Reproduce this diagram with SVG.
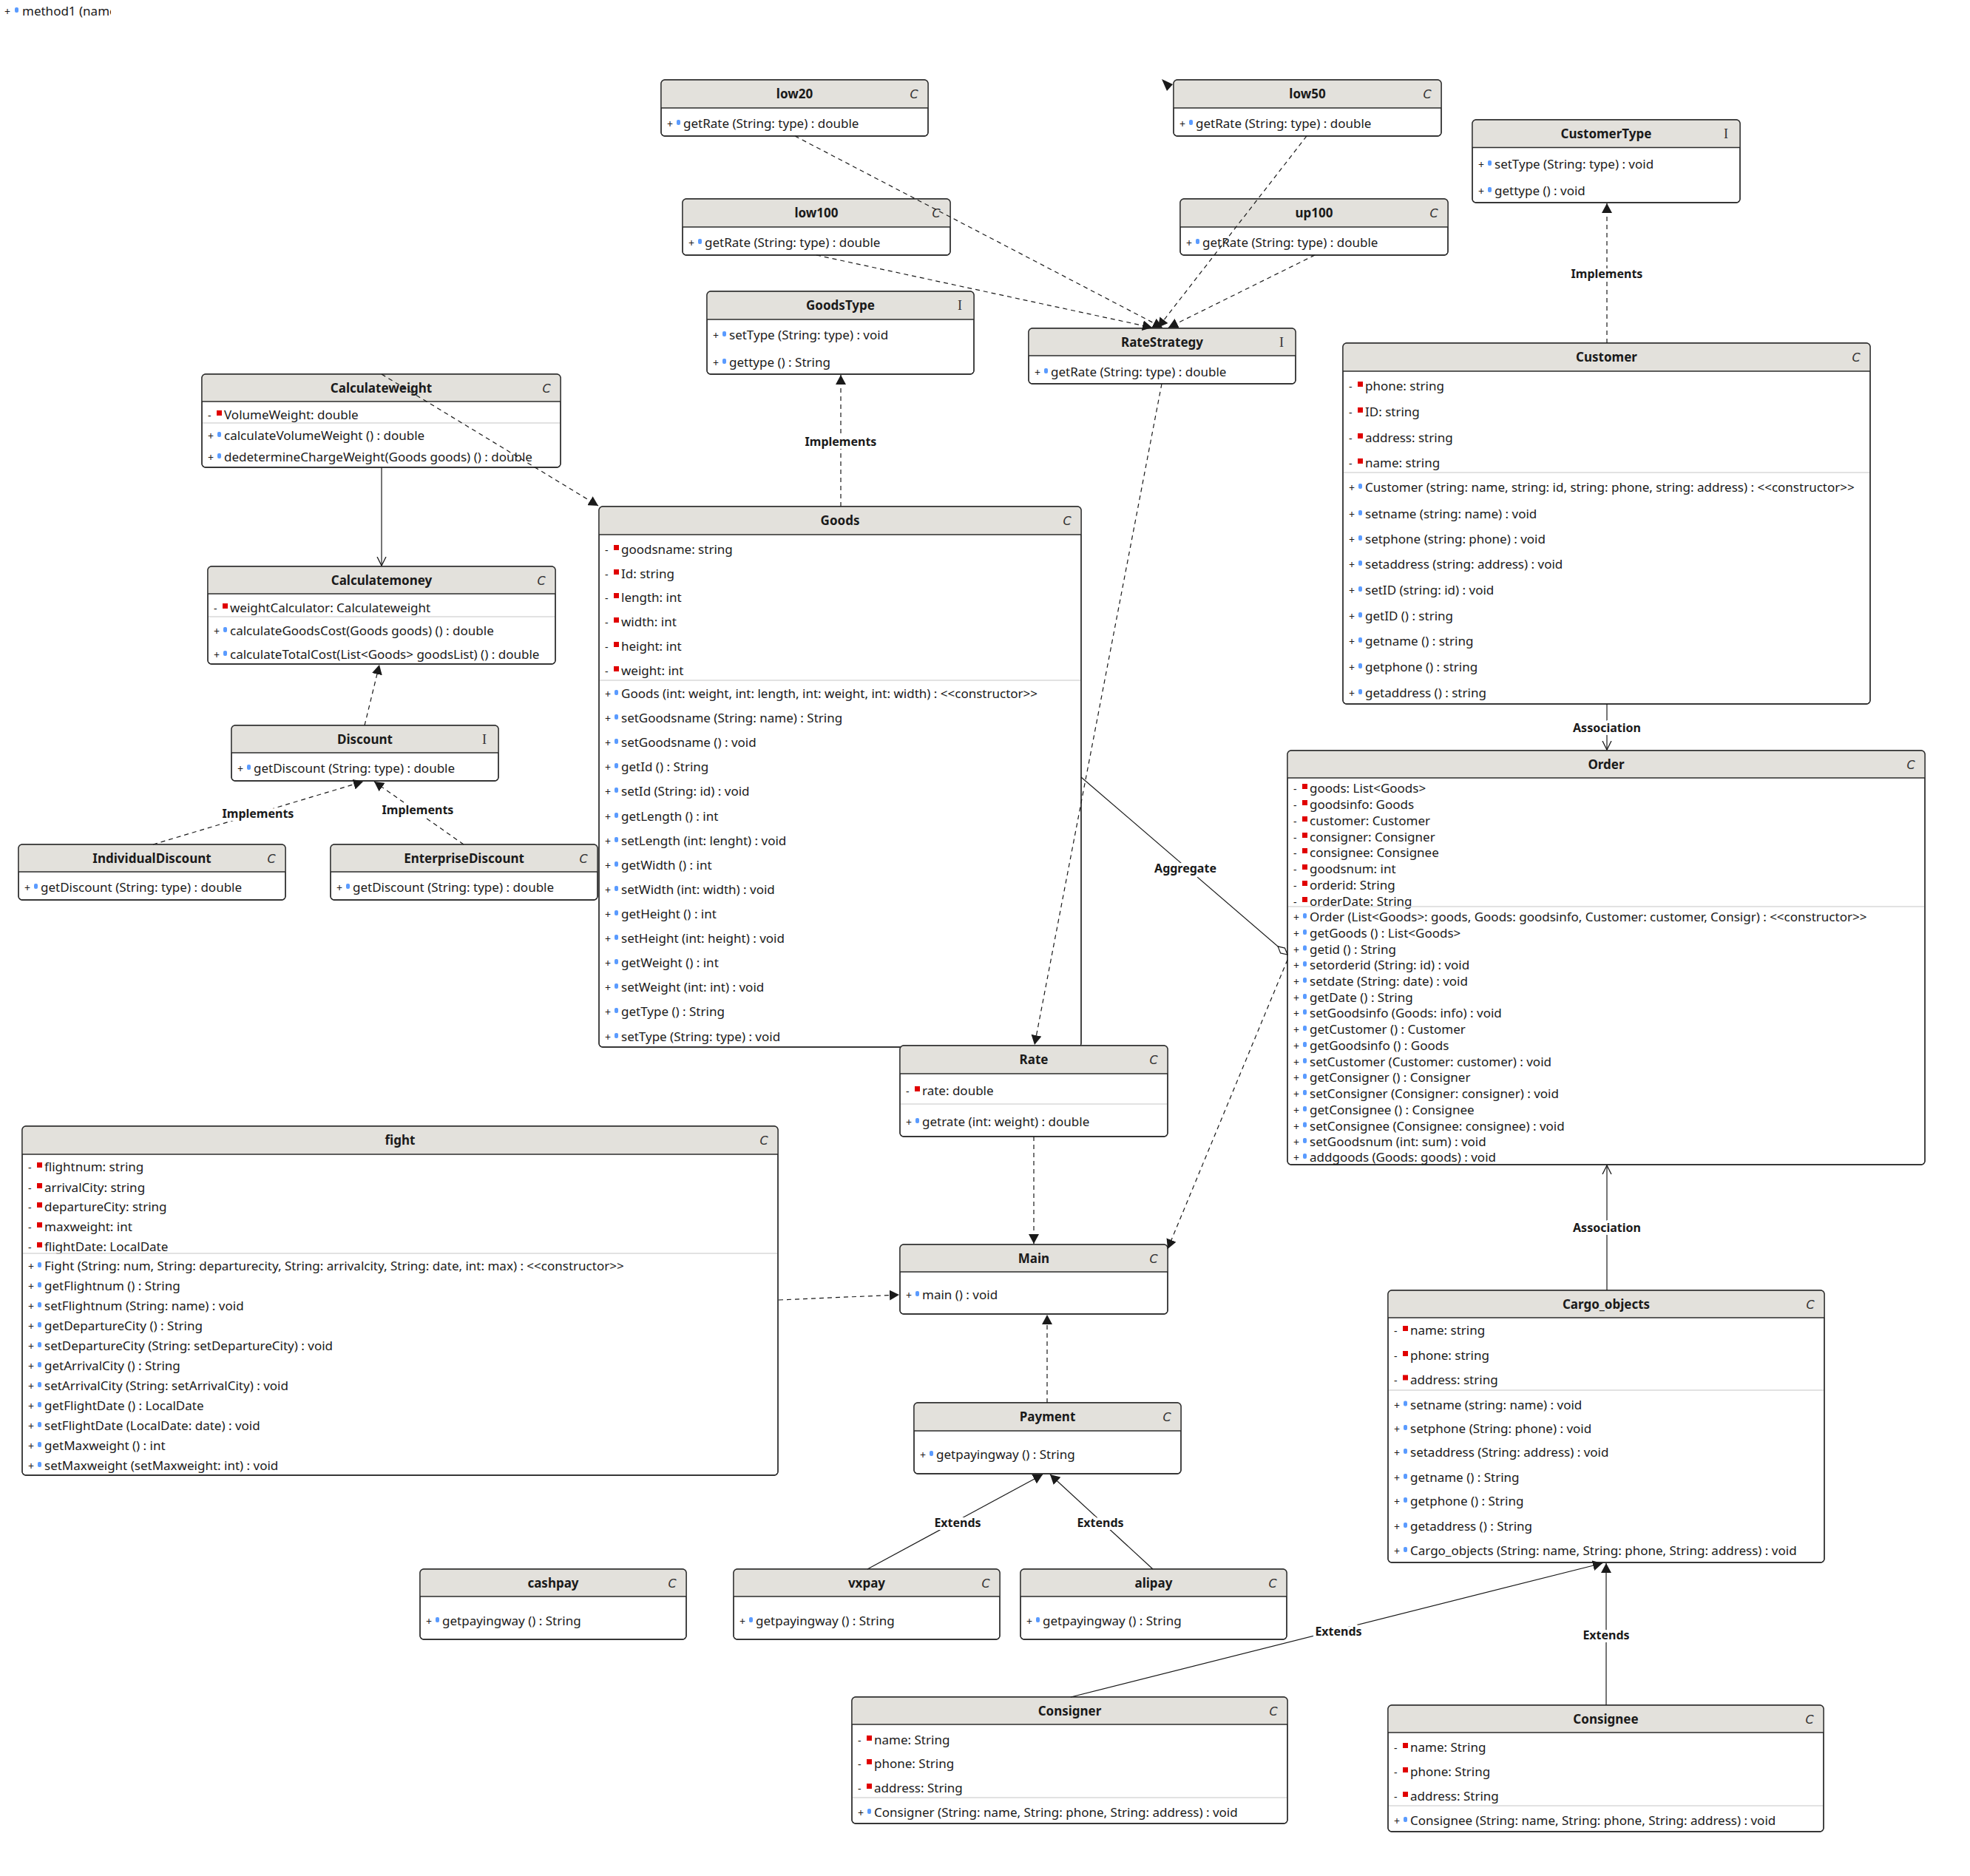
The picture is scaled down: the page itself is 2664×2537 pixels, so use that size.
<svg xmlns="http://www.w3.org/2000/svg" width="2664" height="2537" viewBox="0 0 2664 2537">
<style>
.bx{fill:#fff;stroke:#2b2b2b;stroke-width:1.3}
.hd{fill:#E3E1DC}
.hl{stroke:#2b2b2b;stroke-width:1.3}
.sp{stroke:#d9d9d9;stroke-width:1.5}
text{font-family:"Noto Sans","DejaVu Sans",sans-serif;font-size:17px;fill:#1a1a1a}
text>tspan:first-child{font-size:14px}
.tt{font-weight:bold;text-anchor:middle}
.sc{font-family:"DejaVu Sans",sans-serif;font-style:italic;font-size:16px;text-anchor:middle;fill:#333}
.si{font-family:"Liberation Serif",serif;font-size:18px;text-anchor:middle;fill:#333}
.r{fill:#e00000}
.b{fill:#5a9bff}
.lb{font-weight:bold;font-size:16px;text-anchor:middle;paint-order:stroke;stroke:#fff;stroke-width:8px;stroke-linejoin:round}
.c{stroke:#1a1a1a;stroke-width:1.2;fill:none}
.d{stroke-dasharray:6 5}
</style>
<defs>
<marker id="fa" markerWidth="14" markerHeight="14" refX="13" refY="7" orient="auto" markerUnits="userSpaceOnUse"><path d="M0,0 L13,7 L0,14 Z" fill="#1a1a1a"/></marker>
<marker id="oa" markerWidth="14" markerHeight="14" refX="12" refY="7" orient="auto" markerUnits="userSpaceOnUse"><path d="M0,1 L12,7 L0,13" fill="none" stroke="#1a1a1a" stroke-width="1.3"/></marker>
<marker id="dm" markerWidth="20" markerHeight="12" refX="18" refY="6" orient="auto" markerUnits="userSpaceOnUse"><path d="M1,6 L9.5,1.5 L18,6 L9.5,10.5 Z" fill="#fff" stroke="#1a1a1a" stroke-width="1.2"/></marker>
<clipPath id="tl"><rect x="0" y="0" width="150" height="40"/></clipPath>
</defs>
<rect width="2664" height="2537" fill="#fff"/>

<g id="stray" clip-path="url(#tl)">
<text y="21"><tspan x="6">+</tspan><tspan x="30">method1 (name</tspan></text>
<rect class="b" x="20" y="10" width="5" height="7" rx="2"/>
</g>

<g id="nodes">
<g id="low20">
<rect class="bx" x="894" y="108" width="361" height="76" rx="5"/>
<path class="hd" d="M894,146 V113 Q894,108 899,108 H1250 Q1255,108 1255,113 V146 Z"/>
<rect x="894" y="108" width="361" height="76" rx="5" fill="none" stroke="#2b2b2b" stroke-width="1.3"/>
<line class="hl" x1="894" y1="146" x2="1255" y2="146"/>
<text class="tt" x="1074.5" y="133">low20</text><text class="sc" x="1236" y="133">C</text>
<text y="173"><tspan x="902">+</tspan><tspan x="924">getRate (String: type) : double</tspan></text><rect class="b" x="915" y="162" width="5" height="7" rx="2"/>
</g>
<g id="low50">
<rect class="bx" x="1587" y="108" width="362" height="76" rx="5"/>
<path class="hd" d="M1587,146 V113 Q1587,108 1592,108 H1944 Q1949,108 1949,113 V146 Z"/>
<rect x="1587" y="108" width="362" height="76" rx="5" fill="none" stroke="#2b2b2b" stroke-width="1.3"/>
<line class="hl" x1="1587" y1="146" x2="1949" y2="146"/>
<text class="tt" x="1768" y="133">low50</text><text class="sc" x="1930" y="133">C</text>
<text y="173"><tspan x="1595">+</tspan><tspan x="1617">getRate (String: type) : double</tspan></text><rect class="b" x="1608" y="162" width="5" height="7" rx="2"/>
</g>
<g id="low100">
<rect class="bx" x="923" y="269" width="362" height="76" rx="5"/>
<path class="hd" d="M923,307 V274 Q923,269 928,269 H1280 Q1285,269 1285,274 V307 Z"/>
<rect x="923" y="269" width="362" height="76" rx="5" fill="none" stroke="#2b2b2b" stroke-width="1.3"/>
<line class="hl" x1="923" y1="307" x2="1285" y2="307"/>
<text class="tt" x="1104" y="294">low100</text><text class="sc" x="1266" y="294">C</text>
<text y="334"><tspan x="931">+</tspan><tspan x="953">getRate (String: type) : double</tspan></text><rect class="b" x="944" y="323" width="5" height="7" rx="2"/>
</g>
<g id="up100">
<rect class="bx" x="1596" y="269" width="362" height="76" rx="5"/>
<path class="hd" d="M1596,307 V274 Q1596,269 1601,269 H1953 Q1958,269 1958,274 V307 Z"/>
<rect x="1596" y="269" width="362" height="76" rx="5" fill="none" stroke="#2b2b2b" stroke-width="1.3"/>
<line class="hl" x1="1596" y1="307" x2="1958" y2="307"/>
<text class="tt" x="1777" y="294">up100</text><text class="sc" x="1939" y="294">C</text>
<text y="334"><tspan x="1604">+</tspan><tspan x="1626">getRate (String: type) : double</tspan></text><rect class="b" x="1617" y="323" width="5" height="7" rx="2"/>
</g>
<g id="CustomerType">
<rect class="bx" x="1991" y="162" width="362" height="112" rx="5"/>
<path class="hd" d="M1991,199.5 V167 Q1991,162 1996,162 H2348 Q2353,162 2353,167 V199.5 Z"/>
<rect x="1991" y="162" width="362" height="112" rx="5" fill="none" stroke="#2b2b2b" stroke-width="1.3"/>
<line class="hl" x1="1991" y1="199.5" x2="2353" y2="199.5"/>
<text class="tt" x="2172" y="187">CustomerType</text><text class="si" x="2334" y="187">I</text>
<text y="228"><tspan x="1999">+</tspan><tspan x="2021">setType (String: type) : void</tspan></text><rect class="b" x="2012" y="217" width="5" height="7" rx="2"/>
<text y="264"><tspan x="1999">+</tspan><tspan x="2021">gettype () : void</tspan></text><rect class="b" x="2012" y="253" width="5" height="7" rx="2"/>
</g>
<g id="GoodsType">
<rect class="bx" x="956" y="394" width="361" height="112" rx="5"/>
<path class="hd" d="M956,432 V399 Q956,394 961,394 H1312 Q1317,394 1317,399 V432 Z"/>
<rect x="956" y="394" width="361" height="112" rx="5" fill="none" stroke="#2b2b2b" stroke-width="1.3"/>
<line class="hl" x1="956" y1="432" x2="1317" y2="432"/>
<text class="tt" x="1136.5" y="419">GoodsType</text><text class="si" x="1298" y="419">I</text>
<text y="459"><tspan x="964">+</tspan><tspan x="986">setType (String: type) : void</tspan></text><rect class="b" x="977" y="448" width="5" height="7" rx="2"/>
<text y="496"><tspan x="964">+</tspan><tspan x="986">gettype () : String</tspan></text><rect class="b" x="977" y="485" width="5" height="7" rx="2"/>
</g>
<g id="RateStrategy">
<rect class="bx" x="1391" y="444" width="361" height="75" rx="5"/>
<path class="hd" d="M1391,481 V449 Q1391,444 1396,444 H1747 Q1752,444 1752,449 V481 Z"/>
<rect x="1391" y="444" width="361" height="75" rx="5" fill="none" stroke="#2b2b2b" stroke-width="1.3"/>
<line class="hl" x1="1391" y1="481" x2="1752" y2="481"/>
<text class="tt" x="1571.5" y="468.5">RateStrategy</text><text class="si" x="1733" y="468.5">I</text>
<text y="509"><tspan x="1399">+</tspan><tspan x="1421">getRate (String: type) : double</tspan></text><rect class="b" x="1412" y="498" width="5" height="7" rx="2"/>
</g>
<g id="Calculateweight">
<rect class="bx" x="273" y="506" width="485" height="126" rx="5"/>
<path class="hd" d="M273,543 V511 Q273,506 278,506 H753 Q758,506 758,511 V543 Z"/>
<rect x="273" y="506" width="485" height="126" rx="5" fill="none" stroke="#2b2b2b" stroke-width="1.3"/>
<line class="hl" x1="273" y1="543" x2="758" y2="543"/>
<text class="tt" x="515.5" y="530.5">Calculateweight</text><text class="sc" x="739" y="530.5">C</text>
<text y="567"><tspan x="281">-</tspan><tspan x="303">VolumeWeight: double</tspan></text><rect class="r" x="293" y="555" width="7" height="7"/>
<line class="sp" x1="274" y1="572" x2="757" y2="572"/>
<text y="595"><tspan x="281">+</tspan><tspan x="303">calculateVolumeWeight () : double</tspan></text><rect class="b" x="294" y="584" width="5" height="7" rx="2"/>
<text y="624"><tspan x="281">+</tspan><tspan x="303">dedetermineChargeWeight(Goods goods) () : double</tspan></text><rect class="b" x="294" y="613" width="5" height="7" rx="2"/>
</g>
<g id="Calculatemoney">
<rect class="bx" x="281" y="766" width="470" height="132" rx="5"/>
<path class="hd" d="M281,803 V771 Q281,766 286,766 H746 Q751,766 751,771 V803 Z"/>
<rect x="281" y="766" width="470" height="132" rx="5" fill="none" stroke="#2b2b2b" stroke-width="1.3"/>
<line class="hl" x1="281" y1="803" x2="751" y2="803"/>
<text class="tt" x="516" y="790.5">Calculatemoney</text><text class="sc" x="732" y="790.5">C</text>
<text y="828"><tspan x="289">-</tspan><tspan x="311">weightCalculator: Calculateweight</tspan></text><rect class="r" x="301" y="816" width="7" height="7"/>
<line class="sp" x1="282" y1="834" x2="750" y2="834"/>
<text y="859"><tspan x="289">+</tspan><tspan x="311">calculateGoodsCost(Goods goods) () : double</tspan></text><rect class="b" x="302" y="848" width="5" height="7" rx="2"/>
<text y="891"><tspan x="289">+</tspan><tspan x="311">calculateTotalCost(List&lt;Goods&gt; goodsList) () : double</tspan></text><rect class="b" x="302" y="880" width="5" height="7" rx="2"/>
</g>
<g id="Discount">
<rect class="bx" x="313" y="981" width="361" height="75" rx="5"/>
<path class="hd" d="M313,1018 V986 Q313,981 318,981 H669 Q674,981 674,986 V1018 Z"/>
<rect x="313" y="981" width="361" height="75" rx="5" fill="none" stroke="#2b2b2b" stroke-width="1.3"/>
<line class="hl" x1="313" y1="1018" x2="674" y2="1018"/>
<text class="tt" x="493.5" y="1005.5">Discount</text><text class="si" x="655" y="1005.5">I</text>
<text y="1045"><tspan x="321">+</tspan><tspan x="343">getDiscount (String: type) : double</tspan></text><rect class="b" x="334" y="1034" width="5" height="7" rx="2"/>
</g>
<g id="IndividualDiscount">
<rect class="bx" x="25" y="1142" width="361" height="75" rx="5"/>
<path class="hd" d="M25,1179 V1147 Q25,1142 30,1142 H381 Q386,1142 386,1147 V1179 Z"/>
<rect x="25" y="1142" width="361" height="75" rx="5" fill="none" stroke="#2b2b2b" stroke-width="1.3"/>
<line class="hl" x1="25" y1="1179" x2="386" y2="1179"/>
<text class="tt" x="205.5" y="1166.5">IndividualDiscount</text><text class="sc" x="367" y="1166.5">C</text>
<text y="1206"><tspan x="33">+</tspan><tspan x="55">getDiscount (String: type) : double</tspan></text><rect class="b" x="46" y="1195" width="5" height="7" rx="2"/>
</g>
<g id="EnterpriseDiscount">
<rect class="bx" x="447" y="1142" width="361" height="75" rx="5"/>
<path class="hd" d="M447,1179 V1147 Q447,1142 452,1142 H803 Q808,1142 808,1147 V1179 Z"/>
<rect x="447" y="1142" width="361" height="75" rx="5" fill="none" stroke="#2b2b2b" stroke-width="1.3"/>
<line class="hl" x1="447" y1="1179" x2="808" y2="1179"/>
<text class="tt" x="627.5" y="1166.5">EnterpriseDiscount</text><text class="sc" x="789" y="1166.5">C</text>
<text y="1206"><tspan x="455">+</tspan><tspan x="477">getDiscount (String: type) : double</tspan></text><rect class="b" x="468" y="1195" width="5" height="7" rx="2"/>
</g>
<g id="Goods">
<rect class="bx" x="810" y="685" width="652" height="731" rx="5"/>
<path class="hd" d="M810,723 V690 Q810,685 815,685 H1457 Q1462,685 1462,690 V723 Z"/>
<rect x="810" y="685" width="652" height="731" rx="5" fill="none" stroke="#2b2b2b" stroke-width="1.3"/>
<line class="hl" x1="810" y1="723" x2="1462" y2="723"/>
<text class="tt" x="1136" y="710">Goods</text><text class="sc" x="1443" y="710">C</text>
<text y="749"><tspan x="818">-</tspan><tspan x="840">goodsname: string</tspan></text><rect class="r" x="830" y="737" width="7" height="7"/>
<text y="782"><tspan x="818">-</tspan><tspan x="840">Id: string</tspan></text><rect class="r" x="830" y="770" width="7" height="7"/>
<text y="814"><tspan x="818">-</tspan><tspan x="840">length: int</tspan></text><rect class="r" x="830" y="802" width="7" height="7"/>
<text y="847"><tspan x="818">-</tspan><tspan x="840">width: int</tspan></text><rect class="r" x="830" y="835" width="7" height="7"/>
<text y="880"><tspan x="818">-</tspan><tspan x="840">height: int</tspan></text><rect class="r" x="830" y="868" width="7" height="7"/>
<text y="913"><tspan x="818">-</tspan><tspan x="840">weight: int</tspan></text><rect class="r" x="830" y="901" width="7" height="7"/>
<line class="sp" x1="811" y1="920" x2="1461" y2="920"/>
<text y="944"><tspan x="818">+</tspan><tspan x="840">Goods (int: weight, int: length, int: weight, int: width) : &lt;&lt;constructor&gt;&gt;</tspan></text><rect class="b" x="831" y="933" width="5" height="7" rx="2"/>
<text y="977"><tspan x="818">+</tspan><tspan x="840">setGoodsname (String: name) : String</tspan></text><rect class="b" x="831" y="966" width="5" height="7" rx="2"/>
<text y="1010"><tspan x="818">+</tspan><tspan x="840">setGoodsname () : void</tspan></text><rect class="b" x="831" y="999" width="5" height="7" rx="2"/>
<text y="1043"><tspan x="818">+</tspan><tspan x="840">getId () : String</tspan></text><rect class="b" x="831" y="1032" width="5" height="7" rx="2"/>
<text y="1076"><tspan x="818">+</tspan><tspan x="840">setId (String: id) : void</tspan></text><rect class="b" x="831" y="1065" width="5" height="7" rx="2"/>
<text y="1110"><tspan x="818">+</tspan><tspan x="840">getLength () : int</tspan></text><rect class="b" x="831" y="1099" width="5" height="7" rx="2"/>
<text y="1143"><tspan x="818">+</tspan><tspan x="840">setLength (int: lenght) : void</tspan></text><rect class="b" x="831" y="1132" width="5" height="7" rx="2"/>
<text y="1176"><tspan x="818">+</tspan><tspan x="840">getWidth () : int</tspan></text><rect class="b" x="831" y="1165" width="5" height="7" rx="2"/>
<text y="1209"><tspan x="818">+</tspan><tspan x="840">setWidth (int: width) : void</tspan></text><rect class="b" x="831" y="1198" width="5" height="7" rx="2"/>
<text y="1242"><tspan x="818">+</tspan><tspan x="840">getHeight () : int</tspan></text><rect class="b" x="831" y="1231" width="5" height="7" rx="2"/>
<text y="1275"><tspan x="818">+</tspan><tspan x="840">setHeight (int: height) : void</tspan></text><rect class="b" x="831" y="1264" width="5" height="7" rx="2"/>
<text y="1308"><tspan x="818">+</tspan><tspan x="840">getWeight () : int</tspan></text><rect class="b" x="831" y="1297" width="5" height="7" rx="2"/>
<text y="1341"><tspan x="818">+</tspan><tspan x="840">setWeight (int: int) : void</tspan></text><rect class="b" x="831" y="1330" width="5" height="7" rx="2"/>
<text y="1374"><tspan x="818">+</tspan><tspan x="840">getType () : String</tspan></text><rect class="b" x="831" y="1363" width="5" height="7" rx="2"/>
<text y="1408"><tspan x="818">+</tspan><tspan x="840">setType (String: type) : void</tspan></text><rect class="b" x="831" y="1397" width="5" height="7" rx="2"/>
</g>
<g id="Customer">
<rect class="bx" x="1816" y="464" width="713" height="488" rx="5"/>
<path class="hd" d="M1816,502 V469 Q1816,464 1821,464 H2524 Q2529,464 2529,469 V502 Z"/>
<rect x="1816" y="464" width="713" height="488" rx="5" fill="none" stroke="#2b2b2b" stroke-width="1.3"/>
<line class="hl" x1="1816" y1="502" x2="2529" y2="502"/>
<text class="tt" x="2172.5" y="489">Customer</text><text class="sc" x="2510" y="489">C</text>
<text y="528"><tspan x="1824">-</tspan><tspan x="1846">phone: string</tspan></text><rect class="r" x="1836" y="516" width="7" height="7"/>
<text y="563"><tspan x="1824">-</tspan><tspan x="1846">ID: string</tspan></text><rect class="r" x="1836" y="551" width="7" height="7"/>
<text y="598"><tspan x="1824">-</tspan><tspan x="1846">address: string</tspan></text><rect class="r" x="1836" y="586" width="7" height="7"/>
<text y="632"><tspan x="1824">-</tspan><tspan x="1846">name: string</tspan></text><rect class="r" x="1836" y="620" width="7" height="7"/>
<line class="sp" x1="1817" y1="639" x2="2528" y2="639"/>
<text y="665"><tspan x="1824">+</tspan><tspan x="1846">Customer (string: name, string: id, string: phone, string: address) : &lt;&lt;constructor&gt;&gt;</tspan></text><rect class="b" x="1837" y="654" width="5" height="7" rx="2"/>
<text y="701"><tspan x="1824">+</tspan><tspan x="1846">setname (string: name) : void</tspan></text><rect class="b" x="1837" y="690" width="5" height="7" rx="2"/>
<text y="735"><tspan x="1824">+</tspan><tspan x="1846">setphone (string: phone) : void</tspan></text><rect class="b" x="1837" y="724" width="5" height="7" rx="2"/>
<text y="769"><tspan x="1824">+</tspan><tspan x="1846">setaddress (string: address) : void</tspan></text><rect class="b" x="1837" y="758" width="5" height="7" rx="2"/>
<text y="804"><tspan x="1824">+</tspan><tspan x="1846">setID (string: id) : void</tspan></text><rect class="b" x="1837" y="793" width="5" height="7" rx="2"/>
<text y="839"><tspan x="1824">+</tspan><tspan x="1846">getID () : string</tspan></text><rect class="b" x="1837" y="828" width="5" height="7" rx="2"/>
<text y="873"><tspan x="1824">+</tspan><tspan x="1846">getname () : string</tspan></text><rect class="b" x="1837" y="862" width="5" height="7" rx="2"/>
<text y="908"><tspan x="1824">+</tspan><tspan x="1846">getphone () : string</tspan></text><rect class="b" x="1837" y="897" width="5" height="7" rx="2"/>
<text y="943"><tspan x="1824">+</tspan><tspan x="1846">getaddress () : string</tspan></text><rect class="b" x="1837" y="932" width="5" height="7" rx="2"/>
</g>
<g id="Order">
<rect class="bx" x="1741" y="1015" width="862" height="560" rx="5"/>
<path class="hd" d="M1741,1052 V1020 Q1741,1015 1746,1015 H2598 Q2603,1015 2603,1020 V1052 Z"/>
<rect x="1741" y="1015" width="862" height="560" rx="5" fill="none" stroke="#2b2b2b" stroke-width="1.3"/>
<line class="hl" x1="1741" y1="1052" x2="2603" y2="1052"/>
<text class="tt" x="2172" y="1039.5">Order</text><text class="sc" x="2584" y="1039.5">C</text>
<text y="1072"><tspan x="1749">-</tspan><tspan x="1771">goods: List&lt;Goods&gt;</tspan></text><rect class="r" x="1761" y="1060" width="7" height="7"/>
<text y="1094"><tspan x="1749">-</tspan><tspan x="1771">goodsinfo: Goods</tspan></text><rect class="r" x="1761" y="1082" width="7" height="7"/>
<text y="1116"><tspan x="1749">-</tspan><tspan x="1771">customer: Customer</tspan></text><rect class="r" x="1761" y="1104" width="7" height="7"/>
<text y="1138"><tspan x="1749">-</tspan><tspan x="1771">consigner: Consigner</tspan></text><rect class="r" x="1761" y="1126" width="7" height="7"/>
<text y="1159"><tspan x="1749">-</tspan><tspan x="1771">consignee: Consignee</tspan></text><rect class="r" x="1761" y="1147" width="7" height="7"/>
<text y="1181"><tspan x="1749">-</tspan><tspan x="1771">goodsnum: int</tspan></text><rect class="r" x="1761" y="1169" width="7" height="7"/>
<text y="1203"><tspan x="1749">-</tspan><tspan x="1771">orderid: String</tspan></text><rect class="r" x="1761" y="1191" width="7" height="7"/>
<text y="1225"><tspan x="1749">-</tspan><tspan x="1771">orderDate: String</tspan></text><rect class="r" x="1761" y="1213" width="7" height="7"/>
<line class="sp" x1="1742" y1="1226" x2="2602" y2="1226"/>
<text y="1246"><tspan x="1749">+</tspan><tspan x="1771">Order (List&lt;Goods&gt;: goods, Goods: goodsinfo, Customer: customer, Consigr) : &lt;&lt;constructor&gt;&gt;</tspan></text><rect class="b" x="1762" y="1235" width="5" height="7" rx="2"/>
<text y="1268"><tspan x="1749">+</tspan><tspan x="1771">getGoods () : List&lt;Goods&gt;</tspan></text><rect class="b" x="1762" y="1257" width="5" height="7" rx="2"/>
<text y="1289.5"><tspan x="1749">+</tspan><tspan x="1771">getid () : String</tspan></text><rect class="b" x="1762" y="1278.5" width="5" height="7" rx="2"/>
<text y="1311"><tspan x="1749">+</tspan><tspan x="1771">setorderid (String: id) : void</tspan></text><rect class="b" x="1762" y="1300" width="5" height="7" rx="2"/>
<text y="1333"><tspan x="1749">+</tspan><tspan x="1771">setdate (String: date) : void</tspan></text><rect class="b" x="1762" y="1322" width="5" height="7" rx="2"/>
<text y="1355"><tspan x="1749">+</tspan><tspan x="1771">getDate () : String</tspan></text><rect class="b" x="1762" y="1344" width="5" height="7" rx="2"/>
<text y="1376"><tspan x="1749">+</tspan><tspan x="1771">setGoodsinfo (Goods: info) : void</tspan></text><rect class="b" x="1762" y="1365" width="5" height="7" rx="2"/>
<text y="1398"><tspan x="1749">+</tspan><tspan x="1771">getCustomer () : Customer</tspan></text><rect class="b" x="1762" y="1387" width="5" height="7" rx="2"/>
<text y="1420"><tspan x="1749">+</tspan><tspan x="1771">getGoodsinfo () : Goods</tspan></text><rect class="b" x="1762" y="1409" width="5" height="7" rx="2"/>
<text y="1442"><tspan x="1749">+</tspan><tspan x="1771">setCustomer (Customer: customer) : void</tspan></text><rect class="b" x="1762" y="1431" width="5" height="7" rx="2"/>
<text y="1463"><tspan x="1749">+</tspan><tspan x="1771">getConsigner () : Consigner</tspan></text><rect class="b" x="1762" y="1452" width="5" height="7" rx="2"/>
<text y="1485"><tspan x="1749">+</tspan><tspan x="1771">setConsigner (Consigner: consigner) : void</tspan></text><rect class="b" x="1762" y="1474" width="5" height="7" rx="2"/>
<text y="1507"><tspan x="1749">+</tspan><tspan x="1771">getConsignee () : Consignee</tspan></text><rect class="b" x="1762" y="1496" width="5" height="7" rx="2"/>
<text y="1528.5"><tspan x="1749">+</tspan><tspan x="1771">setConsignee (Consignee: consignee) : void</tspan></text><rect class="b" x="1762" y="1517.5" width="5" height="7" rx="2"/>
<text y="1550"><tspan x="1749">+</tspan><tspan x="1771">setGoodsnum (int: sum) : void</tspan></text><rect class="b" x="1762" y="1539" width="5" height="7" rx="2"/>
<text y="1571"><tspan x="1749">+</tspan><tspan x="1771">addgoods (Goods: goods) : void</tspan></text><rect class="b" x="1762" y="1560" width="5" height="7" rx="2"/>
</g>
<g id="Rate">
<rect class="bx" x="1217" y="1414" width="362" height="123" rx="5"/>
<path class="hd" d="M1217,1452 V1419 Q1217,1414 1222,1414 H1574 Q1579,1414 1579,1419 V1452 Z"/>
<rect x="1217" y="1414" width="362" height="123" rx="5" fill="none" stroke="#2b2b2b" stroke-width="1.3"/>
<line class="hl" x1="1217" y1="1452" x2="1579" y2="1452"/>
<text class="tt" x="1398" y="1439">Rate</text><text class="sc" x="1560" y="1439">C</text>
<text y="1481"><tspan x="1225">-</tspan><tspan x="1247">rate: double</tspan></text><rect class="r" x="1237" y="1469" width="7" height="7"/>
<line class="sp" x1="1218" y1="1493" x2="1578" y2="1493"/>
<text y="1523"><tspan x="1225">+</tspan><tspan x="1247">getrate (int: weight) : double</tspan></text><rect class="b" x="1238" y="1512" width="5" height="7" rx="2"/>
</g>
<g id="Main">
<rect class="bx" x="1217" y="1683" width="362" height="94" rx="5"/>
<path class="hd" d="M1217,1720 V1688 Q1217,1683 1222,1683 H1574 Q1579,1683 1579,1688 V1720 Z"/>
<rect x="1217" y="1683" width="362" height="94" rx="5" fill="none" stroke="#2b2b2b" stroke-width="1.3"/>
<line class="hl" x1="1217" y1="1720" x2="1579" y2="1720"/>
<text class="tt" x="1398" y="1707.5">Main</text><text class="sc" x="1560" y="1707.5">C</text>
<text y="1757"><tspan x="1225">+</tspan><tspan x="1247">main () : void</tspan></text><rect class="b" x="1238" y="1746" width="5" height="7" rx="2"/>
</g>
<g id="fight">
<rect class="bx" x="30" y="1523" width="1022" height="472" rx="5"/>
<path class="hd" d="M30,1561 V1528 Q30,1523 35,1523 H1047 Q1052,1523 1052,1528 V1561 Z"/>
<rect x="30" y="1523" width="1022" height="472" rx="5" fill="none" stroke="#2b2b2b" stroke-width="1.3"/>
<line class="hl" x1="30" y1="1561" x2="1052" y2="1561"/>
<text class="tt" x="541" y="1548">fight</text><text class="sc" x="1033" y="1548">C</text>
<text y="1584"><tspan x="38">-</tspan><tspan x="60">flightnum: string</tspan></text><rect class="r" x="50" y="1572" width="7" height="7"/>
<text y="1612"><tspan x="38">-</tspan><tspan x="60">arrivalCity: string</tspan></text><rect class="r" x="50" y="1600" width="7" height="7"/>
<text y="1638"><tspan x="38">-</tspan><tspan x="60">departureCity: string</tspan></text><rect class="r" x="50" y="1626" width="7" height="7"/>
<text y="1665"><tspan x="38">-</tspan><tspan x="60">maxweight: int</tspan></text><rect class="r" x="50" y="1653" width="7" height="7"/>
<text y="1692"><tspan x="38">-</tspan><tspan x="60">flightDate: LocalDate</tspan></text><rect class="r" x="50" y="1680" width="7" height="7"/>
<line class="sp" x1="31" y1="1695" x2="1051" y2="1695"/>
<text y="1718"><tspan x="38">+</tspan><tspan x="60">Fight (String: num, String: departurecity, String: arrivalcity, String: date, int: max) : &lt;&lt;constructor&gt;&gt;</tspan></text><rect class="b" x="51" y="1707" width="5" height="7" rx="2"/>
<text y="1745"><tspan x="38">+</tspan><tspan x="60">getFlightnum () : String</tspan></text><rect class="b" x="51" y="1734" width="5" height="7" rx="2"/>
<text y="1772"><tspan x="38">+</tspan><tspan x="60">setFlightnum (String: name) : void</tspan></text><rect class="b" x="51" y="1761" width="5" height="7" rx="2"/>
<text y="1799"><tspan x="38">+</tspan><tspan x="60">getDepartureCity () : String</tspan></text><rect class="b" x="51" y="1788" width="5" height="7" rx="2"/>
<text y="1826"><tspan x="38">+</tspan><tspan x="60">setDepartureCity (String: setDepartureCity) : void</tspan></text><rect class="b" x="51" y="1815" width="5" height="7" rx="2"/>
<text y="1853"><tspan x="38">+</tspan><tspan x="60">getArrivalCity () : String</tspan></text><rect class="b" x="51" y="1842" width="5" height="7" rx="2"/>
<text y="1880"><tspan x="38">+</tspan><tspan x="60">setArrivalCity (String: setArrivalCity) : void</tspan></text><rect class="b" x="51" y="1869" width="5" height="7" rx="2"/>
<text y="1907"><tspan x="38">+</tspan><tspan x="60">getFlightDate () : LocalDate</tspan></text><rect class="b" x="51" y="1896" width="5" height="7" rx="2"/>
<text y="1934"><tspan x="38">+</tspan><tspan x="60">setFlightDate (LocalDate: date) : void</tspan></text><rect class="b" x="51" y="1923" width="5" height="7" rx="2"/>
<text y="1961"><tspan x="38">+</tspan><tspan x="60">getMaxweight () : int</tspan></text><rect class="b" x="51" y="1950" width="5" height="7" rx="2"/>
<text y="1988"><tspan x="38">+</tspan><tspan x="60">setMaxweight (setMaxweight: int) : void</tspan></text><rect class="b" x="51" y="1977" width="5" height="7" rx="2"/>
</g>
<g id="Payment">
<rect class="bx" x="1236" y="1897" width="361" height="96" rx="5"/>
<path class="hd" d="M1236,1935 V1902 Q1236,1897 1241,1897 H1592 Q1597,1897 1597,1902 V1935 Z"/>
<rect x="1236" y="1897" width="361" height="96" rx="5" fill="none" stroke="#2b2b2b" stroke-width="1.3"/>
<line class="hl" x1="1236" y1="1935" x2="1597" y2="1935"/>
<text class="tt" x="1416.5" y="1922">Payment</text><text class="sc" x="1578" y="1922">C</text>
<text y="1973"><tspan x="1244">+</tspan><tspan x="1266">getpayingway () : String</tspan></text><rect class="b" x="1257" y="1962" width="5" height="7" rx="2"/>
</g>
<g id="cashpay">
<rect class="bx" x="568" y="2122" width="360" height="95" rx="5"/>
<path class="hd" d="M568,2159 V2127 Q568,2122 573,2122 H923 Q928,2122 928,2127 V2159 Z"/>
<rect x="568" y="2122" width="360" height="95" rx="5" fill="none" stroke="#2b2b2b" stroke-width="1.3"/>
<line class="hl" x1="568" y1="2159" x2="928" y2="2159"/>
<text class="tt" x="748" y="2146.5">cashpay</text><text class="sc" x="909" y="2146.5">C</text>
<text y="2198"><tspan x="576">+</tspan><tspan x="598">getpayingway () : String</tspan></text><rect class="b" x="589" y="2187" width="5" height="7" rx="2"/>
</g>
<g id="vxpay">
<rect class="bx" x="992" y="2122" width="360" height="95" rx="5"/>
<path class="hd" d="M992,2159 V2127 Q992,2122 997,2122 H1347 Q1352,2122 1352,2127 V2159 Z"/>
<rect x="992" y="2122" width="360" height="95" rx="5" fill="none" stroke="#2b2b2b" stroke-width="1.3"/>
<line class="hl" x1="992" y1="2159" x2="1352" y2="2159"/>
<text class="tt" x="1172" y="2146.5">vxpay</text><text class="sc" x="1333" y="2146.5">C</text>
<text y="2198"><tspan x="1000">+</tspan><tspan x="1022">getpayingway () : String</tspan></text><rect class="b" x="1013" y="2187" width="5" height="7" rx="2"/>
</g>
<g id="alipay">
<rect class="bx" x="1380" y="2122" width="360" height="95" rx="5"/>
<path class="hd" d="M1380,2159 V2127 Q1380,2122 1385,2122 H1735 Q1740,2122 1740,2127 V2159 Z"/>
<rect x="1380" y="2122" width="360" height="95" rx="5" fill="none" stroke="#2b2b2b" stroke-width="1.3"/>
<line class="hl" x1="1380" y1="2159" x2="1740" y2="2159"/>
<text class="tt" x="1560" y="2146.5">alipay</text><text class="sc" x="1721" y="2146.5">C</text>
<text y="2198"><tspan x="1388">+</tspan><tspan x="1410">getpayingway () : String</tspan></text><rect class="b" x="1401" y="2187" width="5" height="7" rx="2"/>
</g>
<g id="Cargo_objects">
<rect class="bx" x="1877" y="1745" width="590" height="368" rx="5"/>
<path class="hd" d="M1877,1782 V1750 Q1877,1745 1882,1745 H2462 Q2467,1745 2467,1750 V1782 Z"/>
<rect x="1877" y="1745" width="590" height="368" rx="5" fill="none" stroke="#2b2b2b" stroke-width="1.3"/>
<line class="hl" x1="1877" y1="1782" x2="2467" y2="1782"/>
<text class="tt" x="2172" y="1769.5">Cargo_objects</text><text class="sc" x="2448" y="1769.5">C</text>
<text y="1805"><tspan x="1885">-</tspan><tspan x="1907">name: string</tspan></text><rect class="r" x="1897" y="1793" width="7" height="7"/>
<text y="1839"><tspan x="1885">-</tspan><tspan x="1907">phone: string</tspan></text><rect class="r" x="1897" y="1827" width="7" height="7"/>
<text y="1871.5"><tspan x="1885">-</tspan><tspan x="1907">address: string</tspan></text><rect class="r" x="1897" y="1859.5" width="7" height="7"/>
<line class="sp" x1="1878" y1="1880" x2="2466" y2="1880"/>
<text y="1905.5"><tspan x="1885">+</tspan><tspan x="1907">setname (string: name) : void</tspan></text><rect class="b" x="1898" y="1894.5" width="5" height="7" rx="2"/>
<text y="1938"><tspan x="1885">+</tspan><tspan x="1907">setphone (String: phone) : void</tspan></text><rect class="b" x="1898" y="1927" width="5" height="7" rx="2"/>
<text y="1970"><tspan x="1885">+</tspan><tspan x="1907">setaddress (String: address) : void</tspan></text><rect class="b" x="1898" y="1959" width="5" height="7" rx="2"/>
<text y="2004"><tspan x="1885">+</tspan><tspan x="1907">getname () : String</tspan></text><rect class="b" x="1898" y="1993" width="5" height="7" rx="2"/>
<text y="2036"><tspan x="1885">+</tspan><tspan x="1907">getphone () : String</tspan></text><rect class="b" x="1898" y="2025" width="5" height="7" rx="2"/>
<text y="2070"><tspan x="1885">+</tspan><tspan x="1907">getaddress () : String</tspan></text><rect class="b" x="1898" y="2059" width="5" height="7" rx="2"/>
<text y="2103"><tspan x="1885">+</tspan><tspan x="1907">Cargo_objects (String: name, String: phone, String: address) : void</tspan></text><rect class="b" x="1898" y="2092" width="5" height="7" rx="2"/>
</g>
<g id="Consigner">
<rect class="bx" x="1152" y="2295" width="589" height="171" rx="5"/>
<path class="hd" d="M1152,2332 V2300 Q1152,2295 1157,2295 H1736 Q1741,2295 1741,2300 V2332 Z"/>
<rect x="1152" y="2295" width="589" height="171" rx="5" fill="none" stroke="#2b2b2b" stroke-width="1.3"/>
<line class="hl" x1="1152" y1="2332" x2="1741" y2="2332"/>
<text class="tt" x="1446.5" y="2319.5">Consigner</text><text class="sc" x="1722" y="2319.5">C</text>
<text y="2359"><tspan x="1160">-</tspan><tspan x="1182">name: String</tspan></text><rect class="r" x="1172" y="2347" width="7" height="7"/>
<text y="2391"><tspan x="1160">-</tspan><tspan x="1182">phone: String</tspan></text><rect class="r" x="1172" y="2379" width="7" height="7"/>
<text y="2424"><tspan x="1160">-</tspan><tspan x="1182">address: String</tspan></text><rect class="r" x="1172" y="2412" width="7" height="7"/>
<line class="sp" x1="1153" y1="2431" x2="1740" y2="2431"/>
<text y="2457"><tspan x="1160">+</tspan><tspan x="1182">Consigner (String: name, String: phone, String: address) : void</tspan></text><rect class="b" x="1173" y="2446" width="5" height="7" rx="2"/>
</g>
<g id="Consignee">
<rect class="bx" x="1877" y="2306" width="589" height="171" rx="5"/>
<path class="hd" d="M1877,2343 V2311 Q1877,2306 1882,2306 H2461 Q2466,2306 2466,2311 V2343 Z"/>
<rect x="1877" y="2306" width="589" height="171" rx="5" fill="none" stroke="#2b2b2b" stroke-width="1.3"/>
<line class="hl" x1="1877" y1="2343" x2="2466" y2="2343"/>
<text class="tt" x="2171.5" y="2330.5">Consignee</text><text class="sc" x="2447" y="2330.5">C</text>
<text y="2369"><tspan x="1885">-</tspan><tspan x="1907">name: String</tspan></text><rect class="r" x="1897" y="2357" width="7" height="7"/>
<text y="2402"><tspan x="1885">-</tspan><tspan x="1907">phone: String</tspan></text><rect class="r" x="1897" y="2390" width="7" height="7"/>
<text y="2435"><tspan x="1885">-</tspan><tspan x="1907">address: String</tspan></text><rect class="r" x="1897" y="2423" width="7" height="7"/>
<line class="sp" x1="1878" y1="2442" x2="2465" y2="2442"/>
<text y="2468"><tspan x="1885">+</tspan><tspan x="1907">Consignee (String: name, String: phone, String: address) : void</tspan></text><rect class="b" x="1898" y="2457" width="5" height="7" rx="2"/>
</g>
</g>

<g id="connectors">
<path class="c d" d="M516,506 L809,684" marker-end="url(#fa)"/>
<path class="c" d="M516,632 L516,765" marker-end="url(#oa)"/>
<path class="c d" d="M493,981 L513,899" marker-end="url(#fa)"/>
<path class="c d" d="M207,1142 L491,1057" marker-end="url(#fa)"/>
<path class="c d" d="M627,1142 L506,1057" marker-end="url(#fa)"/>
<path class="c d" d="M1137,685 L1137,507" marker-end="url(#fa)"/>
<path class="c d" d="M1075,184 L1572,443" marker-end="url(#fa)"/>
<path class="c d" d="M1104,345 L1558,443" marker-end="url(#fa)"/>
<path class="c d" d="M1767,184 L1566,443" marker-end="url(#fa)"/>
<path class="c d" d="M1778,345 L1580,443" marker-end="url(#fa)"/>
<path class="c d" d="M1571,519 L1399,1413" marker-end="url(#fa)"/>
<path class="c d" d="M2173,464 L2173,275" marker-end="url(#fa)"/>
<path class="c" d="M2173,952 L2173,1014" marker-end="url(#oa)"/>
<path class="c" d="M2173,1745 L2173,1576" marker-end="url(#oa)"/>
<path class="c" d="M1462,1051 L1741,1291" marker-end="url(#dm)"/>
<path class="c d" d="M1741,1298 L1579,1689" marker-end="url(#fa)"/>
<path class="c d" d="M1398,1537 L1398,1682" marker-end="url(#fa)"/>
<path class="c d" d="M1053,1758 L1216,1751" marker-end="url(#fa)"/>
<path class="c d" d="M1416,1897 L1416,1778" marker-end="url(#fa)"/>
<path class="c" d="M1173,2122 L1410,1994" marker-end="url(#fa)"/>
<path class="c" d="M1559,2122 L1420,1994" marker-end="url(#fa)"/>
<path class="c" d="M1448,2295 L2167,2114" marker-end="url(#fa)"/>
<path class="c" d="M2172,2306 L2172,2114" marker-end="url(#fa)"/>
<polygon points="1571,107 1586,114 1578,123" fill="#1a1a1a"/>
<text class="lb" x="349" y="1106">Implements</text>
<text class="lb" x="565" y="1101">Implements</text>
<text class="lb" x="1137" y="603">Implements</text>
<text class="lb" x="2173" y="376">Implements</text>
<text class="lb" x="2173" y="990">Association</text>
<text class="lb" x="2173" y="1666">Association</text>
<text class="lb" x="1603" y="1180">Aggregate</text>
<text class="lb" x="1295" y="2065">Extends</text>
<text class="lb" x="1488" y="2065">Extends</text>
<text class="lb" x="1810" y="2212">Extends</text>
<text class="lb" x="2172" y="2217">Extends</text>
</g>
</svg>
